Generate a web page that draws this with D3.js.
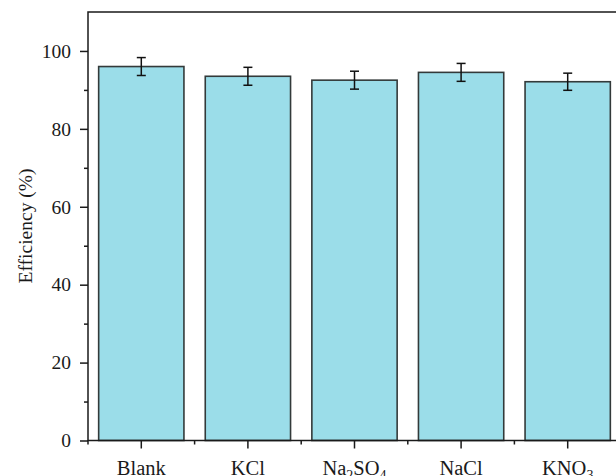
<!DOCTYPE html>
<html>
<head>
<meta charset="utf-8">
<script src="https://cdn.jsdelivr.net/npm/d3@7"></script>
<style>
  html, body { margin: 0; padding: 0; background: #fff; }
  svg { display: block; }
  text { font-family: "Liberation Serif", "DejaVu Serif", serif; fill: #1a1a1a; }
</style>
</head>
<body>
<svg id="chart" width="616" height="476"></svg>
<script>
// Salt categories (label parts: [text, isSubscript])
const categories = ["Blank", "KCl", "Na2SO4", "NaCl", "KNO3"];
const labelParts = [
  [["Blank", false]],
  [["KCl", false]],
  [["Na", false], ["2", true], ["SO", false], ["4", true]],
  [["NaCl", false]],
  [["KNO", false], ["3", true]]
];
const efficiency = [96.0, 93.5, 92.5, 94.5, 92.1];
const errors = [2.3, 2.3, 2.3, 2.3, 2.2];
const yTicks = [0, 20, 40, 60, 80, 100];
const yMinorTicks = [10, 30, 50, 70, 90];

const svg = d3.select("#chart");
const margin = { left: 88, top: 12, bottom: 35.5 };
const plotH = 476 - margin.top - margin.bottom;
const band = 106.6;

const x = d3.scaleBand()
  .domain(categories)
  .range([margin.left, margin.left + band * categories.length])
  .paddingInner(0.2)
  .paddingOuter(0.1);

const y = d3.scaleLinear()
  .domain([0, 110])
  .range([margin.top + plotH, margin.top]);

const x0 = margin.left, x1 = margin.left + band * categories.length;
const yBase = y(0), yTop = y(110);

// Bars
svg.append("g")
  .selectAll("rect")
  .data(efficiency)
  .join("rect")
  .attr("x", (d, i) => x(categories[i]))
  .attr("y", d => y(d))
  .attr("width", x.bandwidth())
  .attr("height", d => y(0) - y(d))
  .attr("fill", "#9bdde9")
  .attr("stroke", "#333a3a")
  .attr("stroke-width", 1.6);

// Error bars
const eg = svg.append("g").attr("stroke", "#111").attr("stroke-width", 1.5);
efficiency.forEach((v, i) => {
  const cx = x(categories[i]) + x.bandwidth() / 2;
  const yHi = y(v + errors[i]), yLo = y(v - errors[i]);
  eg.append("line").attr("x1", cx).attr("x2", cx).attr("y1", yHi).attr("y2", yLo);
  eg.append("line").attr("x1", cx - 4.5).attr("x2", cx + 4.5).attr("y1", yHi).attr("y2", yHi);
  eg.append("line").attr("x1", cx - 4.5).attr("x2", cx + 4.5).attr("y1", yLo).attr("y2", yLo);
});

// Frame
const frame = svg.append("g").attr("stroke", "#1a1a1a").attr("stroke-width", 1.5).attr("fill", "none");
frame.append("rect").attr("x", x0).attr("y", yTop).attr("width", x1 - x0).attr("height", yBase - yTop);

// Y axis
const yAxis = d3.axisLeft(y).tickValues(yTicks).tickSize(8).tickPadding(9);
const yg = svg.append("g").attr("transform", `translate(${x0},0)`).call(yAxis);
yg.select(".domain").remove();
yg.selectAll(".tick line").attr("stroke", "#1a1a1a").attr("stroke-width", 1.5);
yg.selectAll(".tick text").attr("font-size", 19.5).attr("fill", "#1a1a1a")
  .style("font-family", '"Liberation Serif", serif');
const ymg = svg.append("g").attr("transform", `translate(${x0},0)`)
  .call(d3.axisLeft(y).tickValues(yMinorTicks).tickSize(4).tickFormat(""));
ymg.select(".domain").remove();
ymg.selectAll(".tick line").attr("stroke", "#1a1a1a").attr("stroke-width", 1.5);

// X axis
const xAxis = d3.axisBottom(x).tickSize(8).tickFormat("");
const xg = svg.append("g").attr("transform", `translate(0,${yBase})`).call(xAxis);
xg.select(".domain").remove();
xg.selectAll(".tick line").attr("stroke", "#1a1a1a").attr("stroke-width", 1.5);

// Minor x ticks between categories
const minorX = d3.range(categories.length + 1).map(i => x0 + i * band);
svg.append("g").selectAll("line").data(minorX).join("line")
  .attr("x1", d => d).attr("x2", d => d)
  .attr("y1", yBase).attr("y2", yBase + 4)
  .attr("stroke", "#1a1a1a").attr("stroke-width", 1.5);

// Category labels with subscripts
const subShift = 5;
svg.append("g").selectAll("text")
  .data(labelParts)
  .join("text")
  .attr("x", (d, i) => x(categories[i]) + x.bandwidth() / 2)
  .attr("y", yBase + 34.5)
  .attr("text-anchor", "middle")
  .attr("font-size", 20.5)
  .each(function (parts) {
    const t = d3.select(this);
    let shifted = 0;
    parts.forEach(([s, sub]) => {
      const ts = t.append("tspan").text(s);
      if (sub) { ts.attr("font-size", 14).attr("dy", subShift - shifted); shifted = subShift; }
      else { ts.attr("dy", -shifted); shifted = 0; }
    });
  });

// Y axis title
svg.append("text")
  .attr("transform", `translate(32,${226}) rotate(-90)`)
  .attr("text-anchor", "middle")
  .attr("font-size", 19.5)
  .text("Efficiency (%)");
</script>
</body>
</html>
